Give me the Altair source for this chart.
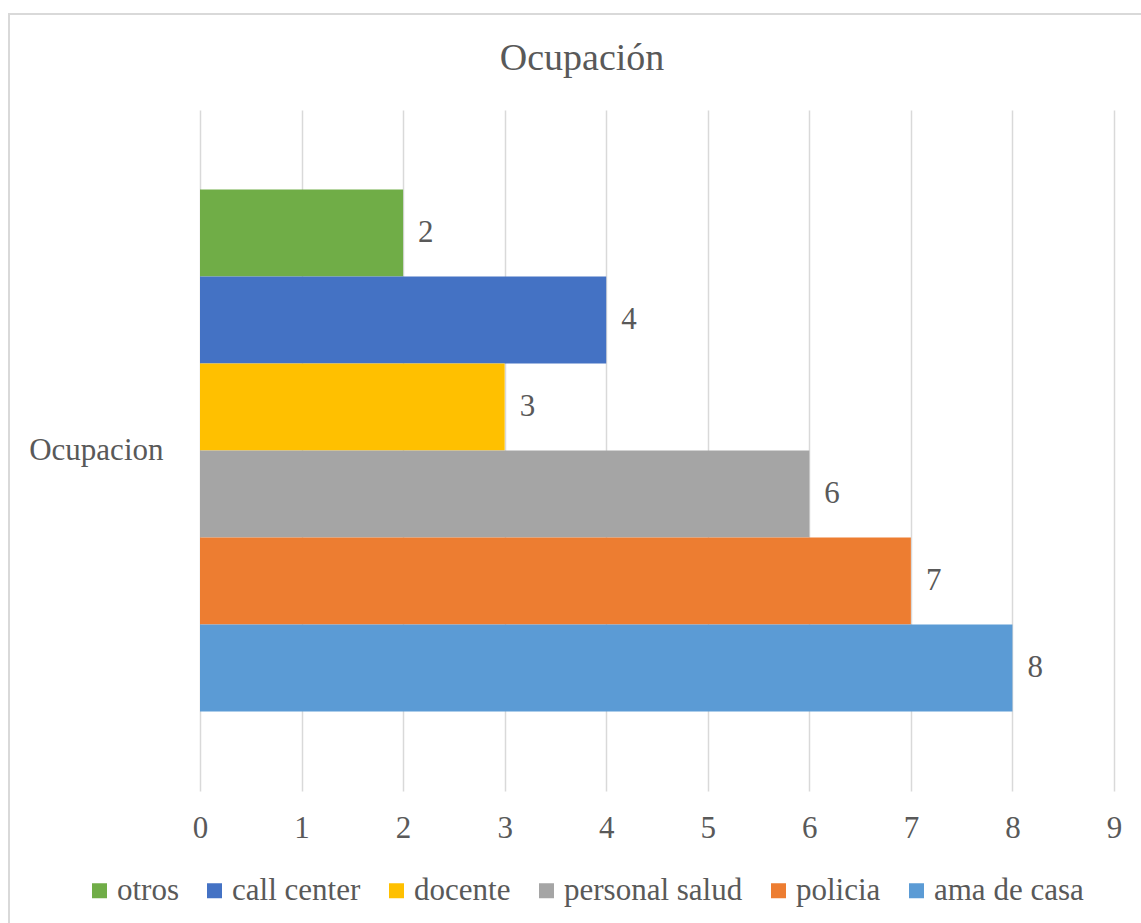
import altair as alt
import pandas as pd

series = ["otros", "call center", "docente", "personal salud", "policia", "ama de casa"]
values = [2, 4, 3, 6, 7, 8]
colors = ["#70AD47", "#4472C4", "#FFC000", "#A5A5A5", "#ED7D31", "#5B9BD5"]
category = "Ocupacion"
x_ticks = [0, 1, 2, 3, 4, 5, 6, 7, 8, 9]

df = pd.DataFrame({"cat": [category] * len(series), "serie": series, "valor": values})

FONT = "Liberation Serif"
TXT = "#595959"
FS = 31

y_enc = alt.Y("cat:N", title=None,
              scale=alt.Scale(paddingInner=0, paddingOuter=0.1523),
              axis=alt.Axis(ticks=False, domain=False, grid=False, labelFontSize=FS,
                            labelFont=FONT, labelColor=TXT, labelPadding=37))
yoff = alt.YOffset("serie:N", sort=series, scale=alt.Scale(paddingInner=0, paddingOuter=0))

base = alt.Chart(df)

bars = base.mark_bar().encode(
    x=alt.X("valor:Q", title=None,
            scale=alt.Scale(domain=[0, 9], nice=False),
            axis=alt.Axis(values=x_ticks, format="d", ticks=False, domain=False, grid=True,
                          gridColor="#D9D9D9", gridWidth=1.5, labelFontSize=FS,
                          labelFlush=False,
                          labelFont=FONT, labelColor=TXT, labelPadding=22)),
    y=y_enc,
    yOffset=yoff,
    color=alt.Color("serie:N", sort=series,
                    scale=alt.Scale(domain=series, range=colors),
                    legend=alt.Legend(title=None, orient="none", direction="horizontal",
                                      legendX=-116, legendY=765,
                                      symbolType="square", symbolSize=225,
                                      symbolStrokeWidth=0, labelFontSize=FS,
                                      labelFont=FONT, labelColor=TXT, labelLimit=0,
                                      columnPadding=20, labelOffset=2)),
)

labels = base.mark_text(align="left", baseline="middle", dx=15, fontSize=FS,
                        font=FONT, color=TXT).encode(
    x="valor:Q",
    y=alt.Y("cat:N"),
    yOffset=yoff,
    text="valor:Q",
)

border = alt.Chart(alt.Data(values=[{}])).mark_rect(
    fill=None, stroke="#D9D9D9", strokeWidth=2
).encode(
    x=alt.value(-191), x2=alt.value(960), y=alt.value(-96), y2=alt.value(830)
)

chart = alt.layer(border, bars, labels).properties(
    width=914, height=681,
    title=alt.TitleParams("Ocupación", font=FONT, fontSize=38, fontWeight="normal",
                          color=TXT, anchor="middle", dx=-75, offset=-65),
    autosize=alt.AutoSizeParams(type="none"),
    padding={"left": 200, "top": 110, "right": 27, "bottom": 132},
).configure_view(stroke=None)

chart.save("out.html", embed_options={"renderer": "svg", "actions": False})
